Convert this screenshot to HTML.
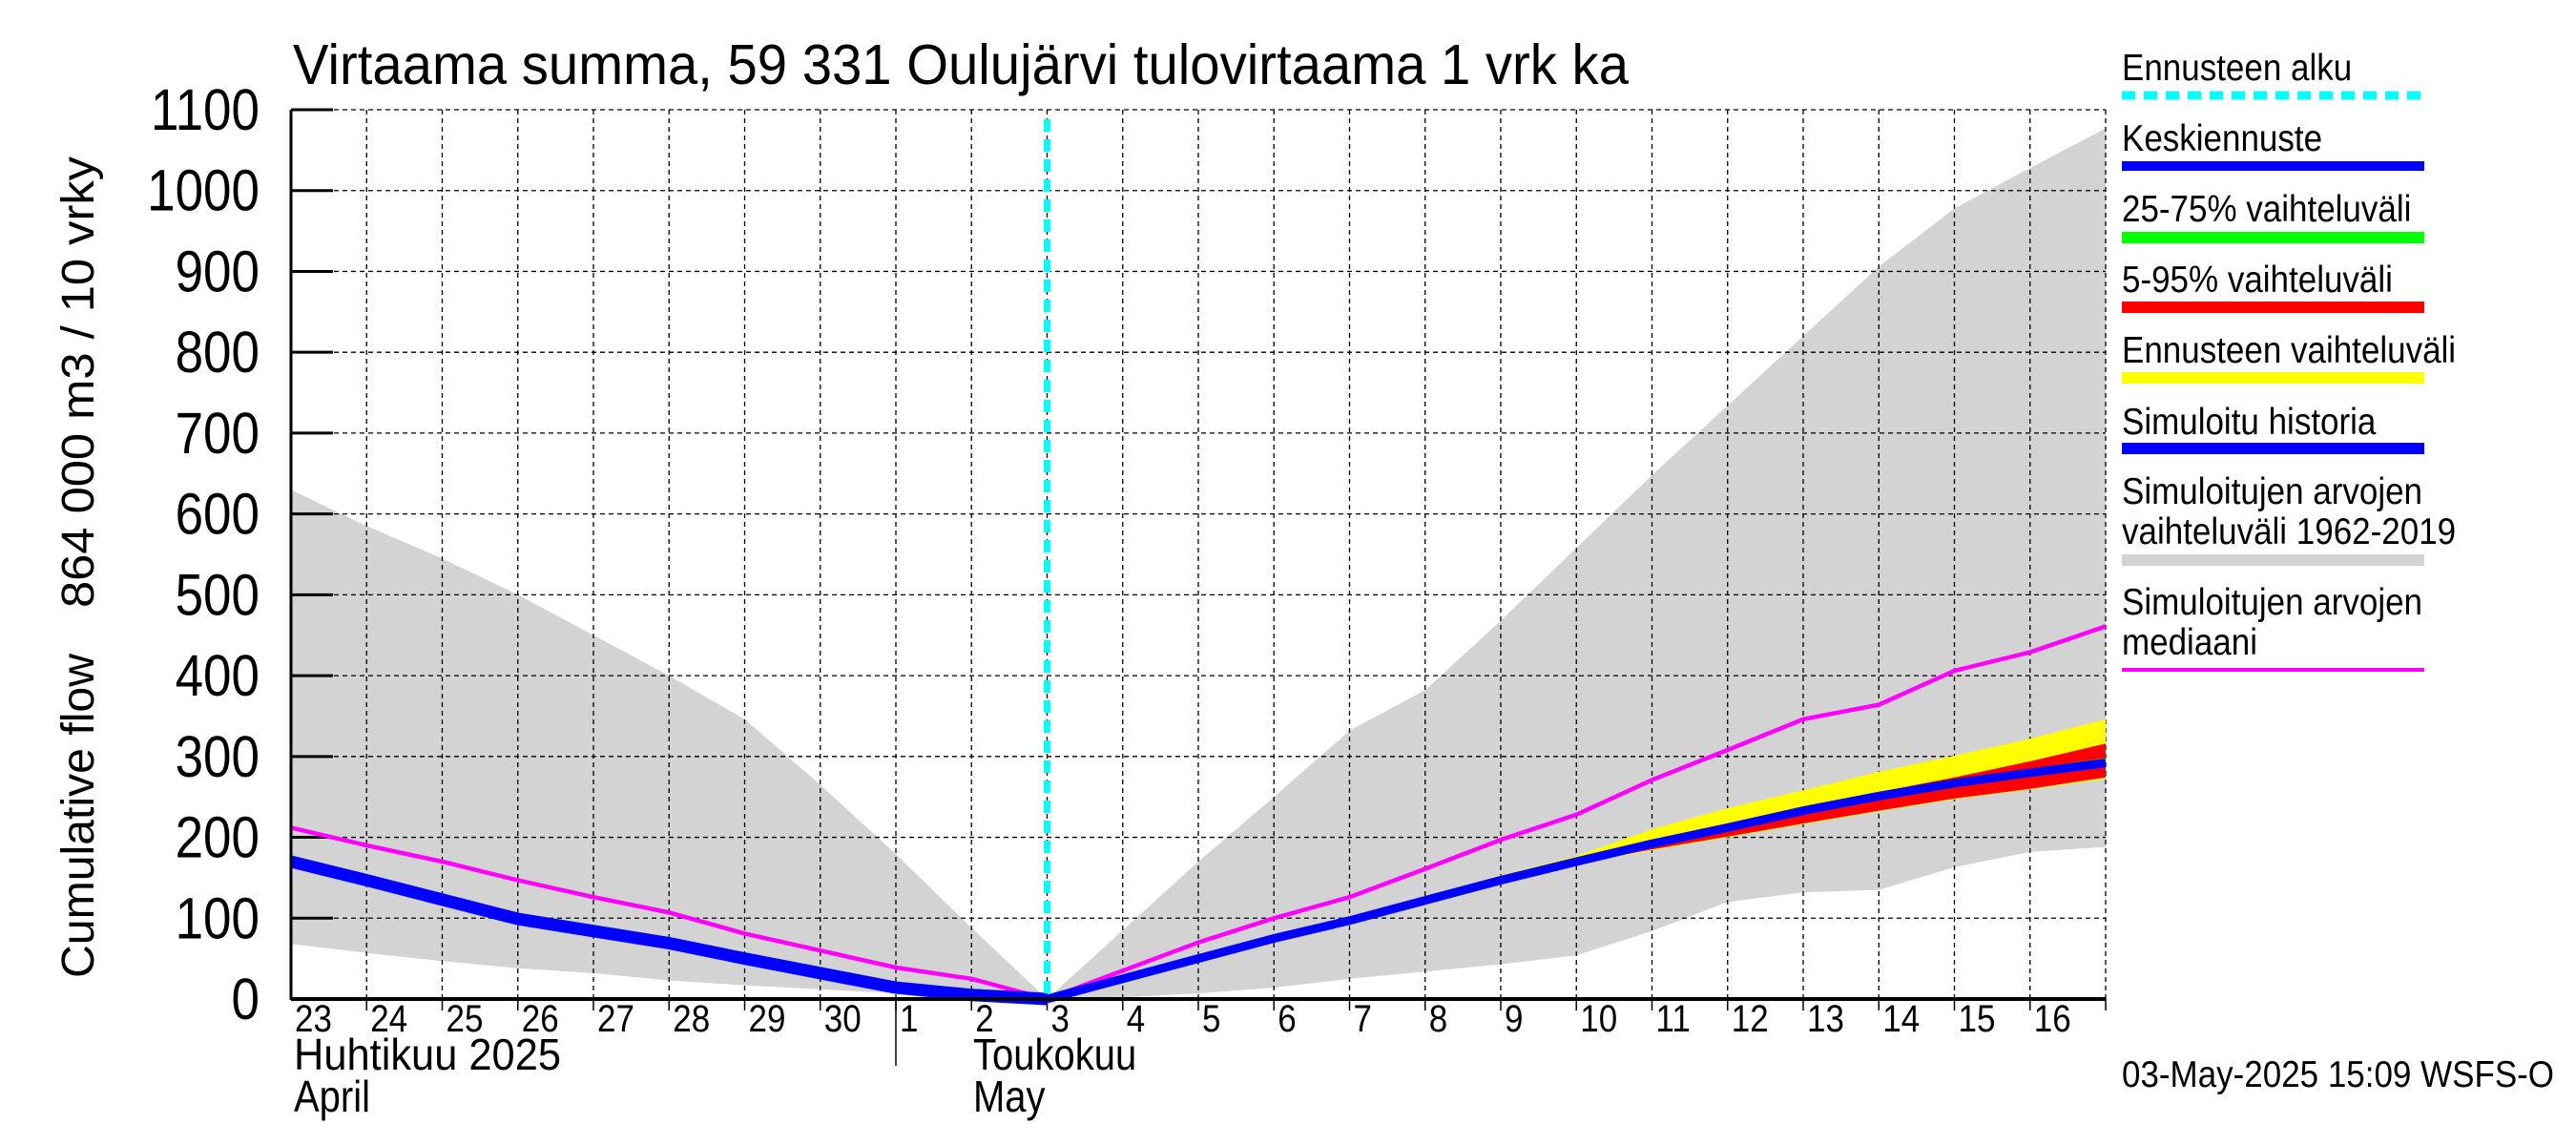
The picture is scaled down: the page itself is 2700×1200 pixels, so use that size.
<!DOCTYPE html>
<html><head><meta charset="utf-8"><style>
html,body{margin:0;padding:0;background:#fff;}
svg{display:block;font-family:"Liberation Sans",Arial,sans-serif;}
</style></head><body>
<svg id="chart" width="2700" height="1200" viewBox="0 0 2700 1200" xmlns="http://www.w3.org/2000/svg">
<g id="plot"></g>
<text transform="translate(307,88) scale(1,1.18)" x="0" y="0" font-size="50" textLength="1400" lengthAdjust="spacingAndGlyphs">Virtaama summa, 59 331 Oulujärvi tulovirtaama 1 vrk ka</text>
<text transform="translate(98,1025) rotate(-90)" font-size="48" textLength="340" lengthAdjust="spacingAndGlyphs">Cumulative flow</text>
<text transform="translate(98,637) rotate(-90)" font-size="48" textLength="473" lengthAdjust="spacingAndGlyphs">864 000 m3 / 10 vrky</text>
<text transform="translate(308,1121) scale(1,1.15)" font-size="40" textLength="280" lengthAdjust="spacingAndGlyphs">Huhtikuu  2025</text>
<text transform="translate(308,1165) scale(1,1.15)" font-size="40">April</text>
<text transform="translate(1020,1121) scale(1,1.15)" font-size="40">Toukokuu</text>
<text transform="translate(1020,1165) scale(1,1.15)" font-size="40">May</text>
<line x1="939" y1="1047" x2="939" y2="1117" stroke="#000" stroke-width="1.5"/>
<text transform="translate(2224,1139) scale(1,1.12)" font-size="35">03-May-2025 15:09 WSFS-O</text>
<g id="legend"></g>
</svg>
<script>
const dayLabels = ["23","24","25","26","27","28","29","30","1","2","3","4","5","6","7","8","9","10","11","12","13","14","15","16"];
const yTicks = [0,100,200,300,400,500,600,700,800,900,1000,1100];
const histDays = [0,1,2,3,4,5,6,7,8,9,10];
const histFlow = [170,147,123,99,84,69,50,32,14,5,0];
const fcDays = [10,11,12,13,14,15,16,17,18,19,20,21,22,23,24];
const fcMedian = [0,25,50,75,97,122,147,170,192,212,233,251,267,280,292];
const fcYellowHi = [0,26,52,78,101,127,153,177,210,236,258,281,301,322,346];
const fcYellowLo = [0,24,48,72,94,118,143,167,184,200,216,232,247,259,272];
const fcRedHi = [0,25,51,76,99,124,150,172,194,214,238,256,274,294,316];
const fcRedLo = [0,24,49,73,95,119,144,168,185,201,217,233,248,260,274];
const fcGreenHi = [0,25,50,75,98,123,148,171,194,215,236,255,271,285,298];
const fcGreenLo = [0,25,50,75,96,121,146,169,190,209,230,248,263,276,287];
const allDays = [0,1,2,3,4,5,6,7,8,9,10,11,12,13,14,15,16,17,18,19,20,21,22,23,24];
const greyHi = [630,585,545,500,450,400,346,265,179,88,0,85,170,250,332,382,468,558,648,734,820,906,978,1028,1077];
const greyLo = [68,57,47,38,32,23,17,12,7,3,0,2,7,14,25,34,43,54,84,120,132,135,163,182,188];
const median = [212,190,170,147,126,107,81,60,39,25,0,35,70,100,126,161,197,228,271,308,346,364,406,429,461];
const forecastStartDay = 10;

const X0=305, DW=79.25, Y0=1047, YS=932/1100;
const xs = d => X0 + d*DW;
const ys = v => Y0 - v*YS;
const NS="http://www.w3.org/2000/svg";
const plot=document.getElementById('plot');
function mk(tag, attrs, parent){const e=document.createElementNS(NS,tag);for(const k in attrs)e.setAttribute(k,attrs[k]);(parent||plot).appendChild(e);return e;}
function pts(days, vals){return days.map((d,i)=>xs(d).toFixed(1)+','+ys(vals[i]).toFixed(1)).join(' ');}
function band(days, hi, lo){return pts(days,hi)+' '+days.slice().reverse().map((d,i)=>{const j=days.length-1-i;return xs(d).toFixed(1)+','+ys(lo[j]).toFixed(1);}).join(' ');}

let e=mk('polygon',{points:band(allDays,greyHi,greyLo),fill:'#d3d3d3'});



for(let d=1; d<=24; d++){
  e=mk('line',{x1:xs(d),y1:ys(1100),x2:xs(d),y2:Y0,stroke:'#000','stroke-width':1.3,'stroke-dasharray':'5,4'});
  
  
  e=mk('line',{x1:xs(d),y1:Y0,x2:xs(d),y2:Y0+12,stroke:'#000','stroke-width':1.5});
  
  
}
yTicks.forEach(v=>{
  if(v>0){
    e=mk('line',{x1:X0,y1:ys(v),x2:xs(24),y2:ys(v),stroke:'#000','stroke-width':1.3,'stroke-dasharray':'5,4'});
    
    
    e=mk('line',{x1:X0,y1:ys(v),x2:X0+44,y2:ys(v),stroke:'#000','stroke-width':3});
    
    
  }
  e=mk('text',{transform:'translate(272,'+(ys(v)+21)+') scale(1,1.15)','text-anchor':'end','font-size':53});
  e.textContent=String(v);
  
  
});
dayLabels.forEach((l,i)=>{
  e=mk('text',{transform:'translate('+(xs(i)+4)+',1081) scale(1,1.15)','font-size':35});
  e.textContent=l;
  
  
});

e=mk('polygon',{points:band(fcDays,fcYellowHi,fcYellowLo),fill:'#ffff00'});


e=mk('polygon',{points:band(fcDays,fcRedHi,fcRedLo),fill:'#ff0000'});


e=mk('polygon',{points:band(fcDays,fcGreenHi,fcGreenLo),fill:'#00ee00'});



e=mk('polyline',{points:pts(allDays,median),fill:'none',stroke:'#ff00ff','stroke-width':4.5});


e=mk('polyline',{points:pts(histDays,histFlow),fill:'none',stroke:'#0000ff','stroke-width':13});


e=mk('polyline',{points:pts(fcDays,fcMedian),fill:'none',stroke:'#0000ff','stroke-width':9});


e=mk('line',{x1:xs(forecastStartDay),y1:ys(1100)+10,x2:xs(forecastStartDay),y2:Y0,stroke:'#00ffff','stroke-width':7,'stroke-dasharray':'13,8'});



e=mk('line',{x1:X0,y1:ys(1100),x2:X0,y2:Y0+1,stroke:'#000','stroke-width':3});


e=mk('line',{x1:X0,y1:Y0,x2:xs(24),y2:Y0,stroke:'#000','stroke-width':4});



const leg=document.getElementById('legend');
const legItems=[
 {t:["Ennusteen alku"],ty:[84],ly:100,c:'#00ffff',dash:'14,9',w:9,n:'legend-forecast-start'},
 {t:["Keskiennuste"],ty:[158],ly:174,c:'#0000ff',w:10,n:'legend-median-forecast'},
 {t:["25-75% vaihteluväli"],ty:[232],ly:249,c:'#00ff00',w:12,n:'legend-25-75'},
 {t:["5-95% vaihteluväli"],ty:[306],ly:322,c:'#ff0000',w:12,n:'legend-5-95'},
 {t:["Ennusteen vaihteluväli"],ty:[380],ly:396,c:'#ffff00',w:12,n:'legend-forecast-range'},
 {t:["Simuloitu historia"],ty:[455],ly:470,c:'#0000ff',w:12,n:'legend-simulated-history'},
 {t:["Simuloitujen arvojen","vaihteluväli 1962-2019"],ty:[528,570],ly:587,c:'#d3d3d3',w:12,n:'legend-historical-range'},
 {t:["Simuloitujen arvojen","mediaani"],ty:[644,686],ly:702,c:'#ff00ff',w:4,n:'legend-median'}
];
legItems.forEach(it=>{
  const g=mk('g',{},leg);
  
  
  it.t.forEach((s,i)=>{const tx=mk('text',{transform:'translate(2224,'+it.ty[i]+') scale(1,1.12)','font-size':35},g);tx.textContent=s;});
  const a={x1:2224,y1:it.ly,x2:2541,y2:it.ly,stroke:it.c,'stroke-width':it.w};
  if(it.dash)a['stroke-dasharray']=it.dash;
  mk('line',a,g);
});
</script>
</body></html>
